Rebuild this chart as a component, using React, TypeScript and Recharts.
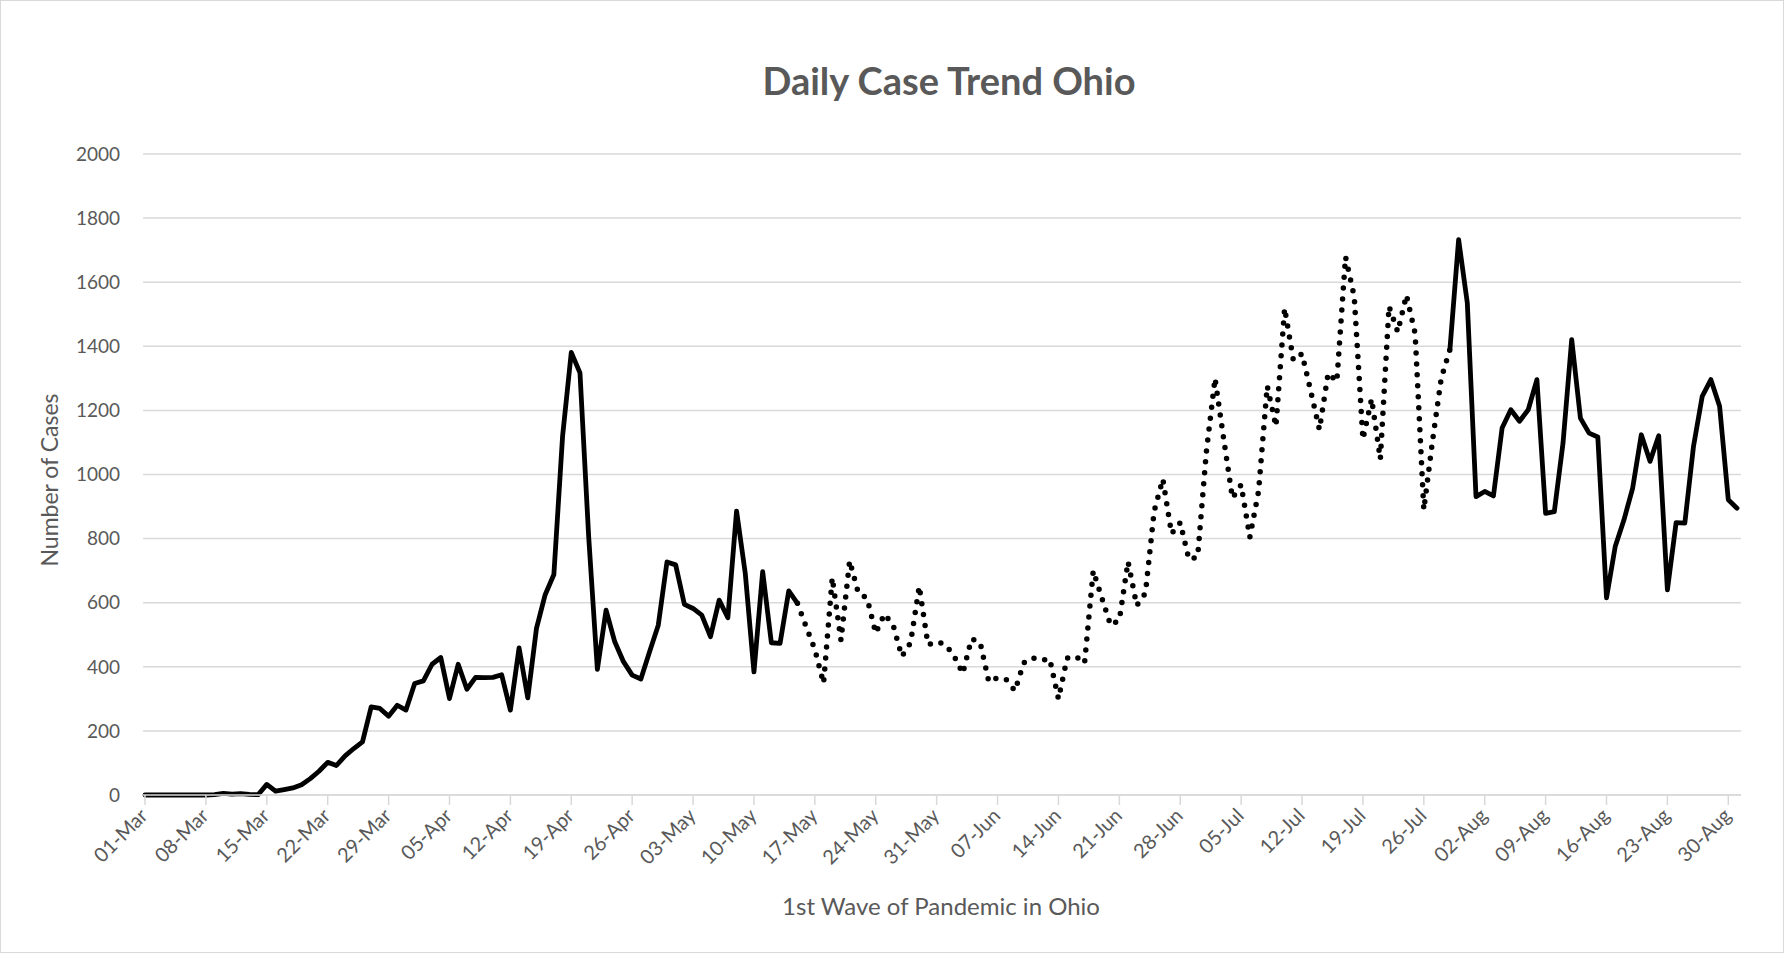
import React from 'react';
import { LineChart, Line, XAxis, YAxis, CartesianGrid } from 'recharts';

// daily dates 01-Mar .. 31-Aug
const monthNames = ['Mar', 'Apr', 'May', 'Jun', 'Jul', 'Aug'];
const monthLengths = [31, 30, 31, 30, 31, 31];

const dates: string[] = [];
monthNames.forEach((m, mi) => {
  for (let d = 1; d <= monthLengths[mi]; d++) {
    dates.push(`${String(d).padStart(2, '0')}-${m}`);
  }
});

// cases per day
const dailyCases = [
  0, 0, 0, 0, 0, 0, 0, 0, 1, 5, 3, 4, 2, 1, 33, 12, 17, 22, 32, 51, 74, 102, 92, 122, 145, 166,
  275, 270, 246, 280, 265, 348, 356, 408, 429, 301, 408, 330, 367, 366, 367, 375, 265, 459, 303,
  520, 625, 688, 1119, 1381, 1317, 806, 392, 577, 478, 416, 374, 362, 447, 530, 727, 718, 595,
  582, 561, 494, 608, 553, 886, 692, 384, 697, 475, 473, 637, 598,
  525, 454, 348, 678, 483, 731, 630, 614, 505, 565, 530, 432, 475, 651, 469, 478, 470, 434, 379,
  487, 476, 353, 366, 360, 325, 412, 428, 420, 424, 300, 427, 433, 411, 700, 614, 529, 546, 728,
  591, 630, 885, 986, 815, 850, 735, 743, 1070, 1300, 1110, 926, 968, 804, 947, 1276, 1150, 1519,
  1357, 1377, 1260, 1140, 1316, 1290, 1679, 1555, 1110, 1236, 1048, 1525, 1445, 1560, 1440, 890,
  1105, 1300, 1390,
  1733, 1535, 931, 947, 933, 1145, 1202, 1166, 1202, 1296, 879, 884, 1098, 1421, 1176, 1129, 1117,
  615, 775, 858, 957, 1124, 1041, 1121, 640, 850, 848, 1088, 1244, 1296, 1213, 921, 895,
];

// dotted stretch of the line
const dottedFrom = '15-May';
const dottedTo = '29-Jul';

const weekTicks = [
  '01-Mar', '08-Mar', '15-Mar', '22-Mar', '29-Mar', '05-Apr', '12-Apr', '19-Apr', '26-Apr',
  '03-May', '10-May', '17-May', '24-May', '31-May', '07-Jun', '14-Jun', '21-Jun', '28-Jun',
  '05-Jul', '12-Jul', '19-Jul', '26-Jul', '02-Aug', '09-Aug', '16-Aug', '23-Aug', '30-Aug',
];
const yTicks = [0, 200, 400, 600, 800, 1000, 1200, 1400, 1600, 1800, 2000];

const iFrom = dates.indexOf(dottedFrom);
const iTo = dates.indexOf(dottedTo);

const rows = dates.map((date, i) => ({
  date,
  early: i <= iFrom ? dailyCases[i] : null,
  middle: i >= iFrom && i <= iTo ? dailyCases[i] : null,
  late: i >= iTo ? dailyCases[i] : null,
}));

const FONT = 'Lato, "Open Sans", sans-serif';
const GREY = '#595959';

const DateTick = (props: any) => {
  const { x, y, payload } = props;
  const tx = x + 4;
  const ty = y + 10;
  return (
    <text
      x={tx}
      y={ty}
      transform={`rotate(-45 ${tx} ${ty})`}
      textAnchor="end"
      fontSize={20}
      fill={GREY}
      fontFamily={FONT}
    >
      {payload.value}
    </text>
  );
};

export default function App() {
  return (
    <div style={{ position: 'absolute', left: 0, top: 0, width: 1784, height: 953, background: '#fff' }}>
      <LineChart
        width={1784}
        height={953}
        data={rows}
        margin={{ top: 154, right: 43, bottom: 68, left: 83 }}
      >
        <CartesianGrid horizontal vertical={false} stroke="#d9d9d9" strokeWidth={1.5} />
        <XAxis
          dataKey="date"
          ticks={weekTicks}
          interval={0}
          height={90}
          padding={{ left: 2, right: 4 }}
          tick={<DateTick />}
          tickSize={10}
          tickMargin={2}
          stroke="#d9d9d9"
          tickLine={{ stroke: '#d9d9d9', strokeWidth: 1.5 }}
          axisLine={{ stroke: '#d9d9d9', strokeWidth: 1.5 }}
        />
        <YAxis
          domain={[0, 2000]}
          ticks={yTicks}
          width={60}
          axisLine={false}
          tickLine={false}
          tickMargin={17}
          tick={{ fontSize: 19, fill: GREY, fontFamily: FONT }}
        />
        <Line
          dataKey="early"
          type="linear"
          stroke="#000"
          strokeWidth={4.8}
          strokeLinejoin="round"
          strokeLinecap="round"
          dot={false}
          activeDot={false}
          connectNulls={false}
          isAnimationActive={false}
        />
        <Line
          dataKey="middle"
          type="linear"
          stroke="#000"
          strokeWidth={5.5}
          strokeDasharray="0 11"
          strokeLinecap="round"
          dot={false}
          activeDot={false}
          connectNulls={false}
          isAnimationActive={false}
        />
        <Line
          dataKey="late"
          type="linear"
          stroke="#000"
          strokeWidth={4.8}
          strokeLinejoin="round"
          strokeLinecap="round"
          dot={false}
          activeDot={false}
          connectNulls={false}
          isAnimationActive={false}
        />
      </LineChart>

      <div
        style={{
          position: 'absolute', left: 449, top: 57, width: 1000, textAlign: 'center',
          fontFamily: FONT, fontWeight: 700, fontSize: 38, lineHeight: '46px', color: GREY,
        }}
      >
        Daily Case Trend Ohio
      </div>
      <div
        style={{
          position: 'absolute', left: 441, top: 891, width: 1000, textAlign: 'center',
          fontFamily: FONT, fontSize: 24, lineHeight: '30px', color: GREY,
        }}
      >
        1st Wave of Pandemic in Ohio
      </div>
      <div
        style={{
          position: 'absolute', left: -101, top: 465, width: 300, textAlign: 'center',
          fontFamily: FONT, fontSize: 23, lineHeight: '30px', color: GREY,
          transform: 'rotate(-90deg)',
        }}
      >
        Number of Cases
      </div>
      <div
        style={{
          position: 'absolute', left: 0, top: 0, width: 1784, height: 953,
          border: '1px solid #d9d9d9', boxSizing: 'border-box', pointerEvents: 'none',
        }}
      />
    </div>
  );
}
